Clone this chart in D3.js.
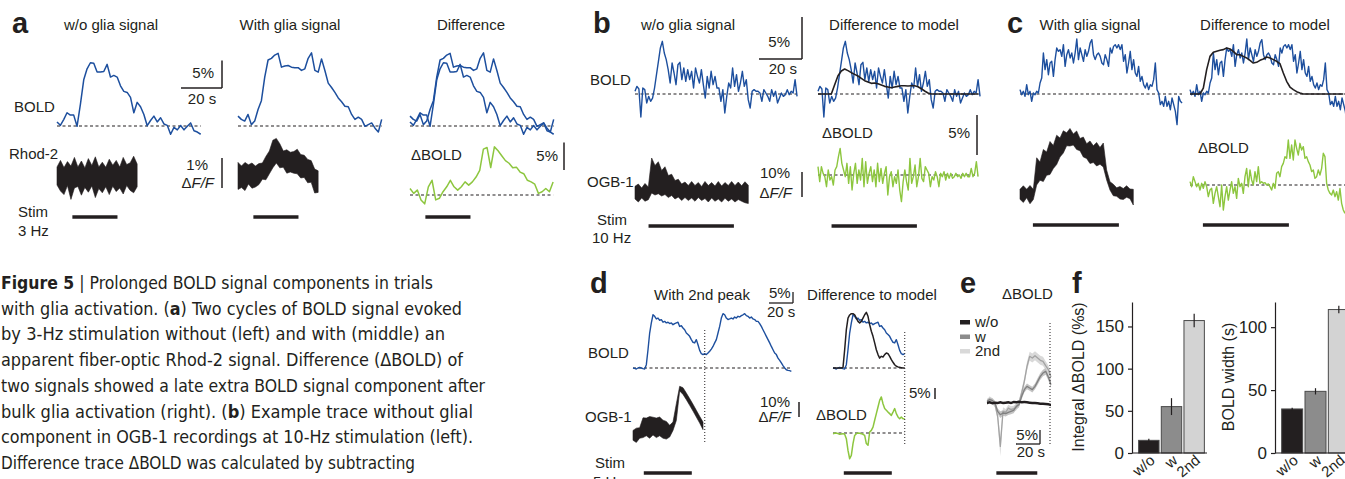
<!DOCTYPE html>
<html><head><meta charset="utf-8">
<script src="https://cdn.jsdelivr.net/npm/d3@7"></script>
<style>
body{margin:0;background:#fff;}
svg{display:block;}
text{font-family:'Liberation Sans',Arial,Helvetica,sans-serif;fill:#231f20;}
</style></head><body>
<script>
// ================= DATA =================
// Panel a (BOLD in %, Rhod-2 in % dF/F, time step in s)
const aStim = [7.5, 29.5];
const aBoldDt = 1.63, aRhodDt = 1.7, aGreenDt = 1.79;
const aLeftBold = [0.74,0.12,1.17,2.41,1.98,1.98,-0.06,3.95,8.4,10.4,11.5,11.4,9.8,9.8,9.9,11.2,8.9,9.2,8.9,7.3,6.3,6.1,5.2,2.4,4.3,3.5,2.1,0.06,1.0,1.8,0.74,1.5,0.37,0.12,-1.5,-0.25,-0.7,0.1,-0.7,-0.06,0.56,-0.86,-1.1,-1.5];
const aMidBold = [1.8,1.2,0.9,2.1,0.25,0.9,3.0,4.6,8.9,12.0,12.3,12.9,13.2,10.7,10.9,11.0,10.7,10.6,10.6,10.1,10.4,12.3,13.3,10.1,9.8,12.2,10.1,7.8,7.0,6.1,5.1,4.4,3.6,3.5,2.1,1.2,1.6,1.2,-0.06,0.25,0.56,-0.4,-1.1,1.2];
const aLeftRhodUp = [0.30,0.52,0.28,0.48,0.33,0.62,0.30,0.50,0.27,0.58,0.35,0.64,0.30,0.46,0.29,0.56,0.36,0.52,0.30,0.62,0.38,0.44,0.66,0.40];
const aLeftRhodLo = [-0.30,-0.50,-0.62,-0.32,-0.78,-0.40,-0.35,-0.64,-0.38,-0.54,-0.33,-0.72,-0.42,-0.56,-0.36,-0.62,-0.34,-0.52,-0.40,-0.60,-0.32,-0.48,-0.56,-0.36];
const aMidRhodUp = [0.42,0.30,0.42,0.34,0.40,0.30,0.38,0.40,0.62,0.80,1.16,1.22,1.04,0.80,0.84,0.76,0.78,0.86,0.68,0.66,0.52,0.48,0.20,0.14];
const aMidRhodLo = [-0.48,-0.42,-0.52,-0.30,-0.44,-0.40,-0.32,-0.14,-0.16,0.04,0.24,0.40,0.24,0.26,0.06,0.10,0.06,0.04,-0.10,-0.08,-0.26,-0.24,-0.60,-0.58];
const aDiffGreen = [1.19,0.30,0.89,-0.89,-1.61,1.49,2.68,-0.89,-0.60,0.60,1.49,2.68,1.49,0.89,1.49,2.38,1.79,2.38,3.27,4.46,8.33,8.63,5.0,8.75,8.04,7.14,6.25,5.77,4.94,5.06,4.17,3.87,2.68,2.38,1.96,0.30,0.60,1.19,0.60,2.38];

// Panel b
const bStim = [6.3, 46];
const bBoldDt = 0.908, bModelDt = 1.55, bGreenDt = 0.792, bOgbDt = 1.55;
const bBold = [0.32,0.91,0.60,-2.74,0.71,0.52,-1.07,-0.28,-0.87,-0.48,0.71,2.30,3.89,5.48,6.27,4.88,4.09,2.90,1.31,3.69,2.50,1.11,3.49,3.77,1.71,3.10,1.51,2.90,1.71,2.70,0.71,3.10,2.10,1.31,2.90,1.11,-0.48,2.10,0.71,2.70,1.11,2.10,0.71,0.71,-0.87,0.52,-2.26,-0.28,1.31,0.71,3.10,0.91,2.30,0.32,1.31,2.70,0.91,1.71,-0.67,-1.67,0.32,0.52,0.32,0.32,0.12,-0.87,0.52,0.12,-0.28,-0.87,0.52,-0.28,0.32,-1.07,-0.48,0.12,-0.28,-0.08,0.52,-0.08,0.32,0.12,1.71,-0.28];
const bModel = [0,0,0,0,0,1.11,2.18,2.74,2.98,2.78,2.54,2.34,2.14,1.87,1.59,1.43,1.27,1.31,1.23,1.07,0.91,0.83,0.75,0.83,0.91,0.99,0.99,0.95,0.99,0.99,0.87,0.63,0.36,0.12,0,0,0,0,0,0,0,0,0,0,0,0,0,0,0];
const bGreen = [1.04,-0.83,1.04,0.21,-0.21,-1.46,0.63,-0.63,-0.21,-1.25,0.63,1.04,2.29,3.33,1.46,0.63,-0.21,1.46,-1.04,1.04,-1.88,0.21,1.46,-1.04,0.63,-0.63,2.08,-1.46,1.67,-1.04,0.21,1.04,-0.83,0.63,-1.46,1.46,-0.83,0.83,-1.04,0.21,1.04,-2.5,-0.21,0.42,-1.46,-0.21,-1.04,0.63,-1.88,-3.33,-0.83,0.63,-0.83,-1.88,2.08,-1.04,-0.21,1.25,-1.46,-0.21,2.08,-0.42,-0.83,1.04,0.63,0.21,-1.46,-0.21,-0.63,0.42,-0.21,-1.46,0.21,-0.21,0.42,-0.63,0.21,-0.42,0.21,-0.42,-0.21,0.21,-0.21,0,-0.42,0.21,-0.21,0.21,-0.21,-0.21,0.83,-0.21,0.21,1.67,-0.21];
const bOgbUp = [2.67,3.6,2.0,3.8,2.4,14,11,12.5,9,10.5,7,7.5,5,5.5,3.6,4.4,3,4.6,3,4.2,2.6,4.6,3,4.2,2.8,4.6,2.8,4.2,3,4.6,3,4.4,2.9,4.5,3.1];
const bOgbLo = [-2.4,-3.6,-2.0,-3.3,-2.67,0,-0.8,-0.3,-1.2,-0.6,-1.8,-1.0,-2.4,-1.6,-3.0,-1.8,-3.0,-2.0,-3.3,-1.8,-3.0,-2.2,-3.6,-2.0,-3.3,-2.4,-3.6,-2.1,-3.3,-2.4,-3.6,-2.6,-3.3,-3.9,-4.2];

// Panel c
const cStim = [6, 46];
const cBoldDt = 0.777, cModelDt = 1.55, cGreenDt = 0.775, cOgbDt = 1.55;
const cBold = [0.52,-0.08,0.32,-0.28,1.11,-0.08,0.32,-0.87,0.12,-0.08,0.32,0.12,1.31,1.90,4.88,2.90,4.09,2.30,3.69,3.89,2.10,4.09,5.48,5.08,5.28,4.48,5.87,3.29,4.68,5.28,4.29,4.88,3.69,4.88,6.55,4.09,5.48,4.68,3.89,5.28,4.48,5.08,6.07,6.47,4.68,4.09,4.68,4.88,4.48,3.69,3.49,4.68,4.09,3.29,5.48,4.88,5.67,5.87,5.48,5.87,5.28,5.87,3.89,4.68,2.50,3.69,5.08,2.90,4.09,2.50,2.10,3.29,1.51,2.10,1.11,0.71,1.31,0.52,1.11,0.91,1.71,3.69,0.52,0.12,-1.27,-0.87,-1.47,-0.28,-1.47,-0.87,-1.87,-0.48,-1.27,-2.06,-3.65,-0.28,-0.87,-1.07];
const cModel = [0,0,0,0,0.71,2.90,4.48,4.96,5.08,5.20,5.28,5.48,5.36,5.08,4.68,4.68,4.48,4.29,4.01,3.69,3.77,4.01,4.17,4.40,4.29,4.09,3.89,3.61,2.50,1.51,0.83,0.52,0.28,0.12,0,0,0,0,0,0,0,0,0,0,0,0,0];
const cGreen = [0.42,-0.21,1.04,0.42,-0.21,0.21,-0.63,0.21,-0.42,0.42,-0.21,-1.46,-0.63,-0.42,-2.29,-1.04,-0.21,-1.46,-2.71,0,-3.13,-1.46,-0.21,-1.88,-0.63,0.42,-1.04,-0.21,-1.67,0.83,-0.21,0.21,-1.04,1.04,2.08,-0.21,1.88,0.63,0,1.67,0.42,2.29,0.21,0.42,0.21,0.29,0,0.13,-0.21,-0.63,0.21,-0.42,1.46,1.67,1.04,2.29,2.71,3.54,3.33,5.63,3.33,5.0,3.13,5.63,4.58,3.75,5.21,4.38,4.79,3.33,3.54,2.92,2.5,1.67,1.88,0.83,1.04,1.88,1.25,2.08,3.96,3.54,0.21,-0.63,-1.04,-1.25,-0.63,-1.46,-0.83,-1.88,-0.42,-2.29,-3.13,-3.54];
const cOgbUp = [1.87,3.3,1.9,3.4,1.87,14.5,12.8,17.8,16.8,21,19.4,23.5,22.4,25.3,24.5,26.2,24,25.2,22.2,22.8,20.1,21.2,19.3,20.6,18.6,20.4,9.6,4.93,3.9,2.5,3.0,2.2,3.3,2.0,1.87];
const cOgbLo = [-2.13,-3.4,-1.5,-3.9,-2.2,3.6,5.5,5.0,7.5,7.8,10.2,11.8,14.8,16.4,19.3,19.2,19.6,17.8,17.3,14.8,14.2,12.2,12.6,11.2,11.9,10.8,5.6,1.6,-0.7,-0.9,-2.0,-2.2,-1.3,-1.9,-4.4];

// Panel d
const dStim = [9, 49];
const dDt = 1.389, dOgbDt = 2.778, dDotT = 59.8;
const dBold = [0,-0.15,-0.45,0,0.3,0,-0.3,-0.45,1.5,8.3,15.9,20.5,24.2,23.5,22.3,22.7,21.7,22.0,20.8,21.2,20.5,20.8,20.2,20.5,19.7,20.2,20.5,20.8,18.9,19.2,18.2,17.4,15.9,15.2,14.4,12.9,11.7,11.4,12.9,10.6,8.0,6.5,6.1,6.5,6.1,6.8,7.6,8.6,9.8,11.4,12.9,15.9,18.9,22.7,24.7,24.2,22.7,22.0,22.3,22.7,22.3,23.2,22.7,23.5,23.2,23.8,24.2,24.7,23.8,23.5,22.7,23.2,22.3,22.0,21.2,21.2,20.2,18.9,17.4,15.9,14.4,12.9,11.4,9.8,8.3,6.8,6.1,4.5,3.5,2.3,1.1,0,-0.8,-1.1,-1.2,-1.5];
const dModel = [0,0,0,0,0,0,0.3,8.3,17.4,22.7,24.1,24.7,24.7,24.2,22.7,21.2,20.5,21.2,22.7,24.2,25.3,23.5,19.7,16.7,14.4,11.4,8.3,6.1,4.5,5.3,5.0,6.1,6.8,6.5,5.3,3.8,2.6,1.5,0.8,0.5,0.3,0.15,0,0];
const dGreen = [-0.3,-0.15,0,-0.3,-0.6,-0.45,-0.3,-0.6,-2.6,-7.9,-11.7,-10.2,-4.8,-1.1,-0.3,0,-0.15,-0.3,-0.6,-1.1,-4.8,-5.6,0.45,1.2,2.7,5.8,8.8,11.8,14.8,16.4,13.3,11.1,10.3,9.5,8.8,8.0,9.5,11.1,8.8,7.3,6.5,7.3,6.5,6.5];
const dOgbUp = [4.4,5.9,6.2,12.8,12.6,13.6,13.2,12.6,13.3,11.2,10.4,7.8,10,22.2,33.8,32.9,29.3,25.6,21.8,17.8,13.8,10];
const dOgbLo = [-2.2,-3.6,-0.8,-0.4,0.8,-0.8,1.4,-0.4,0.8,-0.8,-1.4,0,4.4,11,30.7,28.4,24.9,21.1,17.3,13.3,9.3,4.9];

// Panel e (mean +/- SEM, %)
const eStim = [7.8, 41.9];
const eDt = 2.222, eDotT = 52.5;
const eSeries = ['w/o','w','2nd'];
const eWo  = [0,0.24,-0.12,0.12,0,0.24,0,0.12,0.24,0,0.36,0.24,0.48,0.24,0.36,0.24,0.12,0,0,-0.12,-0.24,-0.24,-0.36,-0.48,-0.71];
const eW   = [0.6,1.19,0.95,0,-2.98,-4.17,-3.57,-3.81,-3.33,-2.98,-2.62,-1.19,-0.6,2.38,4.76,5.95,5.36,4.76,5.95,7.74,9.52,10.71,11.31,9.29,6.55];
const e2nd = [0.24,1.43,0.6,-0.6,-4.76,-15.48,-2.98,-3.33,-1.79,-2.38,-2.14,-1.43,0,3.57,7.74,13.1,16.67,16.07,16.9,16.07,15.24,14.88,13.33,11.9,9.29];
const eWoSem  = [0.45,0.45,0.45,0.45,0.45,0.45,0.45,0.45,0.45,0.45,0.45,0.45,0.45,0.45,0.45,0.45,0.45,0.45,0.45,0.45,0.45,0.45,0.45,0.45,0.45];
const eWSem   = [0.8,0.8,0.8,0.8,1,1.2,1,1,1,1,1,1,1,1,1,1,1,1,1,1.2,1.2,1.2,1.2,1.2,1.2];
const e2ndSem = [1,1,1,1,1.5,3.5,1.5,1.2,1.2,1.2,1.2,1.2,1.2,1.4,1.4,1.6,1.6,1.6,1.6,1.6,1.6,1.6,1.6,1.6,1.6];

// Panel f
const fCats = ['w/o','w','2nd'];
const fIntegral = [15, 55, 157];
const fIntegralErr = [2, 10, 8];
const fWidth = [35, 49, 114];
const fWidthErr = [1, 2.5, 3];
const fIntegralTicks = [0, 50, 100, 150];
const fWidthTicks = [0, 50, 100];

// Caption
const captionLines = [
  [['Figure 5', true], [' | Prolonged BOLD signal components in trials', false]],
  [['with glia activation. (', false], ['a', true], [') Two cycles of BOLD signal evoked', false]],
  [['by 3-Hz stimulation without (left) and with (middle) an', false]],
  [['apparent fiber-optic Rhod-2 signal. Difference (\u0394BOLD) of', false]],
  [['two signals showed a late extra BOLD signal component after', false]],
  [['bulk glia activation (right). (', false], ['b', true], [') Example trace without glial', false]],
  [['component in OGB-1 recordings at 10-Hz stimulation (left).', false]],
  [['Difference trace \u0394BOLD was calculated by subtracting', false]]
];
const captionWidths = [432, 461, 444, 462, 484, 472, 472, 414];

// ================= DRAWING =================
const W = 1345, H = 479;
const BLUE = '#1d4f9e', GREEN = '#8dc63f', BLACK = '#231f20';
const svg = d3.select('body').append('svg').attr('width', W).attr('height', H);

function scales(x0, pxPerS, y0, pxPerU) {
  return {
    x: d3.scaleLinear().domain([0, 1]).range([x0, x0 + pxPerS]),
    y: d3.scaleLinear().domain([0, 1]).range([y0, y0 - pxPerU])
  };
}
function trace(vals, dt, sc, color, w, tMax) {
  const pts = vals.map((v, i) => [i * dt, v]).filter(p => tMax == null || p[0] <= tMax + 1e-6);
  svg.append('path').attr('d', d3.line().x(p => sc.x(p[0])).y(p => sc.y(p[1]))(pts))
    .attr('fill', 'none').attr('stroke', color).attr('stroke-width', w)
    .attr('stroke-linejoin', 'round');
}
function band(up, lo, dt, sc, color, sw) {
  const ar = d3.area().x((d, i) => sc.x(i * dt)).y0((d, i) => sc.y(lo[i])).y1(d => sc.y(d));
  svg.append('path').attr('d', ar(up)).attr('fill', color).attr('stroke', color).attr('stroke-width', sw == null ? 0.6 : sw)
    .attr('stroke-linejoin', 'miter');
}
function semBand(mean, sem, dt, sc, color) {
  const ar = d3.area().x((d, i) => sc.x(i * dt)).y0((d, i) => sc.y(d - sem[i])).y1((d, i) => sc.y(d + sem[i]));
  svg.append('path').attr('d', ar(mean)).attr('fill', color);
}
function dashed(sc, t0, t1, w) {
  svg.append('line').attr('x1', sc.x(t0)).attr('x2', sc.x(t1)).attr('y1', sc.y(0)).attr('y2', sc.y(0))
    .attr('stroke', BLACK).attr('stroke-width', w || 1.2).attr('stroke-dasharray', '3,2.5');
}
function stim(sc, s, y) {
  svg.append('line').attr('x1', sc.x(s[0])).attr('x2', sc.x(s[1])).attr('y1', y).attr('y2', y)
    .attr('stroke', BLACK).attr('stroke-width', 3.6);
}
function vbar(x, yBottom, sc, val, w) {
  const len = sc.y(0) - sc.y(val);
  svg.append('line').attr('x1', x).attr('x2', x).attr('y1', yBottom).attr('y2', yBottom - len)
    .attr('stroke', BLACK).attr('stroke-width', w || 1.5);
}
function hbar(xRight, y, sc, val, w) {
  const len = sc.x(val) - sc.x(0);
  svg.append('line').attr('x1', xRight - len).attr('x2', xRight).attr('y1', y).attr('y2', y)
    .attr('stroke', BLACK).attr('stroke-width', w || 1.5);
}
function dotted(x, y1, y2) {
  svg.append('line').attr('x1', x).attr('x2', x).attr('y1', y1).attr('y2', y2)
    .attr('stroke', BLACK).attr('stroke-width', 1).attr('stroke-dasharray', '1,2');
}
function T(x, y, s, o) {
  o = o || {};
  const t = svg.append('text').attr('x', x).attr('y', y).text(s).style('font-size', (o.size || 15) + 'px');
  if (o.anchor) t.attr('text-anchor', o.anchor);
  if (o.bold) t.style('font-weight', 'bold');
  return t;
}
function dff(xEnd, y) {
  const t = svg.append('text').attr('x', xEnd).attr('y', y).attr('text-anchor', 'end').style('font-size', '15px');
  t.append('tspan').text('\u0394');
  t.append('tspan').style('font-style', 'italic').text('F/F');
}
const last = (arr, dt) => (arr.length - 1) * dt;

// ---------- Panel letters ----------
T(12, 33, 'a', {size: 29, bold: true});
T(593, 33, 'b', {size: 29, bold: true});
T(1007, 33, 'c', {size: 29, bold: true});
T(590, 293, 'd', {size: 29, bold: true});
T(960, 293, 'e', {size: 29, bold: true});
T(1072, 293, 'f', {size: 29, bold: true});

// ---------- Panel a ----------
{
  const pxs = 2.05, py = 5.5;
  const aL = scales(57, pxs, 126, py), aM = scales(238, pxs, 126, py), aD = scales(410, pxs, 126, py);
  const rL = scales(57, pxs, 176, 30), rM = scales(238, pxs, 175, 30);
  const gD = scales(410, pxs, 195, py);
  T(111, 30, 'w/o glia signal', {anchor: 'middle'});
  T(290, 30, 'With glia signal', {anchor: 'middle'});
  T(471, 30, 'Difference', {anchor: 'middle'});
  T(14, 112, 'BOLD'); T(9, 159, 'Rhod-2'); T(18, 217, 'Stim'); T(18, 236, '3 Hz');
  dashed(aL, 0, last(aLeftBold, aBoldDt)); dashed(aM, 0, last(aMidBold, aBoldDt)); dashed(aD, 0, last(aMidBold, aBoldDt));
  trace(aLeftBold, aBoldDt, aL, BLUE, 1.5);
  trace(aMidBold, aBoldDt, aM, BLUE, 1.5);
  trace(aLeftBold, aBoldDt, aD, BLUE, 1.5);
  trace(aMidBold, aBoldDt, aD, BLUE, 1.5);
  band(aLeftRhodUp, aLeftRhodLo, aRhodDt, rL, BLACK);
  band(aMidRhodUp, aMidRhodLo, aRhodDt, rM, BLACK);
  dashed(gD, 0, last(aDiffGreen, aGreenDt));
  trace(aDiffGreen, aGreenDt, gD, GREEN, 1.5);
  stim(aL, aStim, 217); stim(aM, aStim, 217); stim(aD, aStim, 217);
  vbar(222, 88, aL, 5); hbar(222, 88, aL, 20);
  T(214, 78, '5%', {anchor: 'end'}); T(202, 104, '20 s', {anchor: 'middle'});
  vbar(222, 188, rL, 1);
  T(208, 170, '1%', {anchor: 'end'}); dff(214, 188);
  T(411, 160, '\u0394BOLD');
  T(558, 161, '5%', {anchor: 'end'}); vbar(564, 170, gD, 5);
}

// ---------- Panel b ----------
{
  const pxs = 2.15;
  const bL = scales(635, pxs, 94, 8.4), bR = scales(818, pxs, 94, 8.4);
  const oL = scales(635, pxs, 193, 2.5), gR = scales(818, pxs, 175, 8);
  T(688, 30, 'w/o glia signal', {anchor: 'middle'});
  T(894, 30, 'Difference to model', {anchor: 'middle'});
  T(590, 85, 'BOLD'); T(587, 187, 'OGB-1'); T(597, 225, 'Stim'); T(592, 243, '10 Hz');
  dashed(bL, 0, last(bBold, bBoldDt));
  trace(bBold, bBoldDt, bL, BLUE, 1.4);
  dashed(bR, 0, last(bBold, bBoldDt));
  trace(bBold, bBoldDt, bR, BLUE, 1.4);
  trace(bModel, bModelDt, bR, BLACK, 1.6);
  band(bOgbUp, bOgbLo, bOgbDt, oL, BLACK);
  dashed(gR, 0, last(bGreen, bGreenDt));
  trace(bGreen, bGreenDt, gR, GREEN, 1.4);
  stim(bL, bStim, 226); stim(bR, bStim, 226);
  vbar(802, 59, bL, 5); hbar(802, 59, bL, 20);
  T(790, 47, '5%', {anchor: 'end'}); T(797, 74, '20 s', {anchor: 'end'});
  vbar(802, 197, oL, 10);
  T(790, 178, '10%', {anchor: 'end'}); dff(792, 198);
  T(822, 138, '\u0394BOLD');
  T(970, 138, '5%', {anchor: 'end'}); vbar(977, 155, gR, 5);
}

// ---------- Panel c ----------
{
  const pxs = 2.15;
  const cL = scales(1020, pxs, 94, 8.4), cR = scales(1190, pxs, 94, 8.4);
  const oL = scales(1020, pxs, 194, 2.5), gR = scales(1190, pxs, 185, 8);
  T(1090, 30, 'With glia signal', {anchor: 'middle'});
  T(1265, 30, 'Difference to model', {anchor: 'middle'});
  dashed(cL, 0, last(cBold, cBoldDt));
  trace(cBold, cBoldDt, cL, BLUE, 1.4);
  dashed(cR, 0, last(cBold, cBoldDt));
  trace(cBold, cBoldDt, cR, BLUE, 1.4);
  trace(cModel, cModelDt, cR, BLACK, 1.6);
  band(cOgbUp, cOgbLo, cOgbDt, oL, BLACK);
  T(1198, 153, '\u0394BOLD');
  dashed(gR, 0, last(cBold, cBoldDt));
  trace(cGreen, cGreenDt, gR, GREEN, 1.4);
  stim(cL, cStim, 225); stim(cR, cStim, 225);
}

// ---------- Panel d ----------
{
  const pxs = 1.2;
  const dL = scales(633, pxs, 368, 2.2), dR = scales(833, pxs, 368, 2.2);
  const oL = scales(633, pxs, 437, 1.5), gR = scales(833, pxs, 433, 2.2);
  T(702, 300, 'With 2nd peak', {anchor: 'middle'});
  T(872, 300, 'Difference to model', {anchor: 'middle'});
  T(588, 358, 'BOLD'); T(585, 422, 'OGB-1'); T(595, 468, 'Stim'); T(593, 487, '5 Hz');
  dashed(dL, 0, last(dBold, dDt));
  trace(dBold, dDt, dL, BLUE, 1.4);
  band(dOgbUp, dOgbLo, dOgbDt, oL, BLACK);
  dotted(dL.x(dDotT), 330, 443);
  dashed(dR, 0, dDotT);
  trace(dBold, dDt, dR, BLUE, 1.4, dDotT);
  trace(dModel, dDt, dR, BLACK, 1.5, dDotT);
  dashed(gR, 0, dDotT);
  trace(dGreen, dDt, gR, GREEN, 1.5, dDotT);
  dotted(dR.x(dDotT), 332, 445);
  stim(dL, dStim, 473); stim(dR, dStim, 473);
  T(769, 298, '5%');
  hbar(793, 303, dL, 20, 1.3); vbar(793, 303, dL, 5, 1.3);
  T(767, 317, '20 s');
  T(790, 407, '10%', {anchor: 'end'}); dff(791, 422);
  vbar(799, 417, oL, 10);
  T(816, 420, '\u0394BOLD');
  T(909, 398, '5%'); vbar(935, 399, gR, 5);
}

// ---------- Panel e ----------
{
  const es = scales(987, 1.2, 403, 2.8);
  T(1002, 299, '\u0394BOLD');
  const legCols = [BLACK, '#8c8c8c', '#d9d9d9'];
  eSeries.forEach((s, i) => {
    svg.append('rect').attr('x', 960).attr('y', 320 + i * 14.5).attr('width', 10).attr('height', 4.5).attr('fill', legCols[i]);
    T(975, 327 + i * 14.5, s);
  });
  semBand(e2nd, e2ndSem, eDt, es, '#d9d9d9');
  semBand(eW, eWSem, eDt, es, '#c4c4c4');
  trace(e2nd, eDt, es, '#a3a3a3', 1.3);
  trace(eW, eDt, es, '#808080', 1.3);
  semBand(eWo, eWoSem, eDt, es, BLACK);
  trace(eWo, eDt, es, BLACK, 1.2);
  dotted(es.x(eDotT), 323, 445);
  vbar(1040, 444, es, 5, 1.3); hbar(1040, 444, es, 20, 1.3);
  T(1038, 440, '5%', {anchor: 'end'}); T(1045, 457, '20 s', {anchor: 'end'});
  stim(es, eStim, 473);
}

// ---------- Panel f ----------
function barChart(xAxis, xEnd, vals, errs, dmax, ticks, label, labelX) {
  const y = d3.scaleLinear().domain([0, dmax]).range([453, 302]);
  const x = d3.scaleBand().domain(fCats).range([xAxis + 5.5, xAxis + 5.5 + (xEnd - xAxis - 7)]).paddingInner(0.1).paddingOuter(0.05);
  const cols = [BLACK, '#8c8c8c', '#d3d3d3'];
  fCats.forEach((c, i) => {
    svg.append('rect').attr('x', x(c)).attr('y', y(vals[i])).attr('width', x.bandwidth()).attr('height', y(0) - y(vals[i]))
      .attr('fill', cols[i]).attr('stroke', '#4a4a4a').attr('stroke-width', 1);
    const cx = x(c) + x.bandwidth() / 2;
    svg.append('line').attr('x1', cx).attr('x2', cx).attr('y1', y(vals[i] - errs[i])).attr('y2', y(vals[i] + errs[i]))
      .attr('stroke', BLACK).attr('stroke-width', 1.2);
    svg.append('text').attr('transform', `translate(${cx + 7},${462}) rotate(-40)`).attr('text-anchor', 'end')
      .style('font-size', '15px').text(c);
  });
  const ax = svg.append('g').attr('transform', `translate(${xAxis},0)`)
    .call(d3.axisLeft(y).tickValues(ticks).tickSize(4).tickSizeOuter(0).tickPadding(4));
  ax.attr('font-family', null).attr('font-size', null);
  ax.selectAll('text').style('font-size', '17px').style('fill', BLACK);
  ax.selectAll('line,path').attr('stroke', BLACK).attr('stroke-width', 1.2);
  svg.append('line').attr('x1', xAxis).attr('x2', xEnd).attr('y1', 453).attr('y2', 453).attr('stroke', BLACK).attr('stroke-width', 1.2);
  svg.append('text').attr('transform', `translate(${labelX},377) rotate(-90)`).attr('text-anchor', 'middle')
    .style('font-size', '16px').text(label);
}
barChart(1132, 1207, fIntegral, fIntegralErr, 179, fIntegralTicks, 'Integral \u0394BOLD (%s)', 1084);
barChart(1275, 1352, fWidth, fWidthErr, 120, fWidthTicks, 'BOLD width (s)', 1234);

// ---------- Caption ----------
captionLines.forEach((parts, i) => {
  const t = svg.append('text').attr('x', 1).attr('y', 289 + i * 25.7)
    .style('font-family', "'DejaVu Sans Condensed','Liberation Sans Narrow','Open Sans',sans-serif")
    .style('font-stretch', 'condensed').style('font-size', '18px')
    .attr('textLength', captionWidths[i]).attr('lengthAdjust', 'spacingAndGlyphs');
  parts.forEach(p => t.append('tspan').style('font-weight', p[1] ? 'bold' : 'normal').text(p[0]));
});
</script></body></html>
